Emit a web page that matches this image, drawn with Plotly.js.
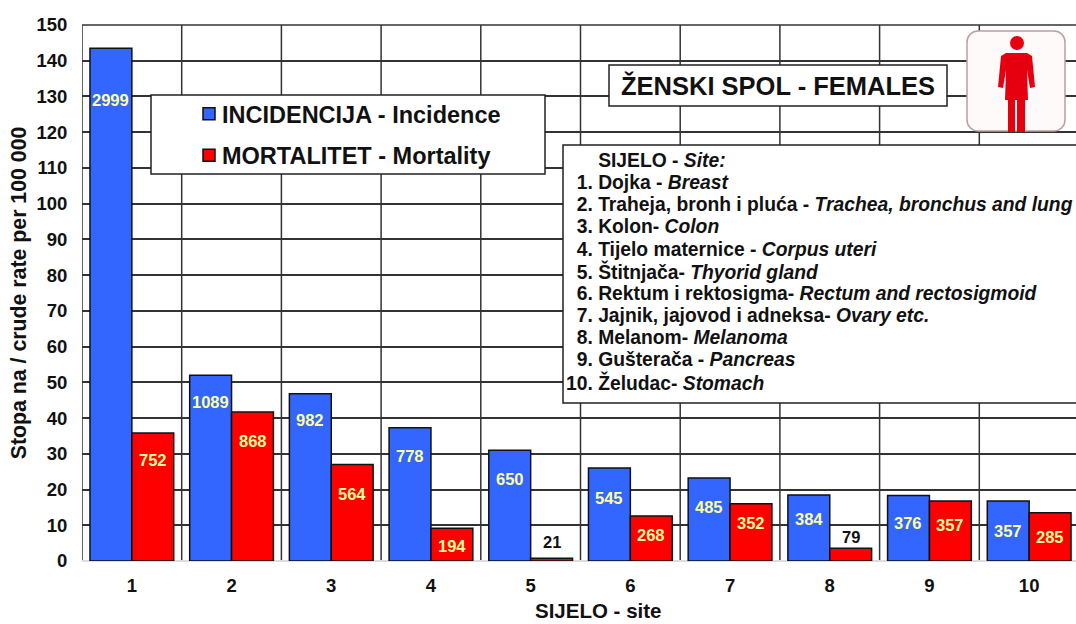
<!DOCTYPE html>
<html><head><meta charset="utf-8">
<script src="https://cdn.plot.ly/plotly-3.0.1.min.js"></script>
<style>html,body{margin:0;padding:0;background:#fff;overflow:hidden}</style>
</head><body><div id="chart" style="width:1076px;height:624px"></div>
<script>
const sites = [1,2,3,4,5,6,7,8,9,10];
const incidenceRate = [143.5,52,46.8,37.3,31,26,23.2,18.5,18.3,16.8];
const mortalityRate = [35.8,41.7,27,9.2,0.8,12.6,16,3.6,16.8,13.5];
const incidenceCases = [2999,1089,982,778,650,545,485,384,376,357];
const mortalityCases = [752,868,564,194,21,268,352,79,357,285];
const incidenceDrop = [52,27,26,28,29,30,29,24,27,30];
const mortalityDrop = [27,29,29,18,-16,19,19,-11,24,24];
const yTicks = [0,10,20,30,40,50,60,70,80,90,100,110,120,130,140,150];
const NB = '\u00a0';
const siteLines = [
 NB.repeat(6) + 'SIJELO - <i>Site:</i>',
 NB + NB + '1. Dojka - <i>Breast</i>',
 NB + NB + '2. Traheja, bronh i pluća - <i>Trachea, bronchus and lung</i>',
 NB + NB + '3. Kolon- <i>Colon</i>',
 NB + NB + '4. Tijelo maternice - <i>Corpus uteri</i>',
 NB + NB + '5. Štitnjača- <i>Thyorid gland</i>',
 NB + NB + '6. Rektum i rektosigma- <i>Rectum and rectosigmoid</i>',
 NB + NB + '7. Jajnik, jajovod i adneksa- <i>Ovary etc.</i>',
 NB + NB + '8. Melanom- <i>Melanoma</i>',
 NB + NB + '9. Gušterača - <i>Pancreas</i>',
 '10. Želudac- <i>Stomach</i>'
];
const FONT = '"Liberation Sans", Arial, sans-serif';
const W = 1076, H = 624, L = 82, T = 25, B = 63;
const px = x => (x - L) / (W - L);
const py = y => 1 - (y - T) / (H - T - B);
const CATW = 99.7;
const BLUE = '#3366ff', RED = '#ff0000', LINE = '#333333', PALE = '#ffff99';

const bar = (name, y, color) => ({
  type: 'bar', name, x: sites, y, legendgroup: name,
  marker: {color, line: {color: '#111', width: 1.5}}, hoverinfo: 'x+y'
});
const traces = [
  bar('INCIDENCIJA - Incidence', incidenceRate, BLUE),
  bar('MORTALITET - Mortality', mortalityRate, RED)
];
const gridShapes = sites.map(s => ({
  type: 'line', layer: 'below', xref: 'x', yref: 'paper',
  x0: s - 0.5, x1: s - 0.5, y0: 0, y1: 1, line: {color: LINE, width: 1.5}
}));
const label = (x, y, text, dx, drop, color) => ({
  xref: 'x', yref: 'y', x, y, text: String(text), showarrow: false,
  xanchor: 'center', yanchor: 'middle', xshift: dx, yshift: -drop,
  font: {family: FONT, size: 16.5, color, weight: 700}
});
const labels = [];
sites.forEach((s, i) => {
  labels.push(label(s, incidenceRate[i], incidenceCases[i], -21, incidenceDrop[i], PALE));
  labels.push(label(s, mortalityRate[i], mortalityCases[i], 21, mortalityDrop[i], mortalityDrop[i] < 0 ? '#111' : PALE));
});
const siteNotes = siteLines.map((text, i) => ({
  xref: 'paper', yref: 'paper', x: px(565), y: py(160.5 + i * 22.15), xanchor: 'left', yanchor: 'middle',
  showarrow: false, text, align: 'left', borderpad: 0,
  font: {family: FONT, size: 19.3, color: '#111', weight: 700}
}));
const icon = 'data:image/svg+xml,' + encodeURIComponent(
 '<svg xmlns="http://www.w3.org/2000/svg" width="100" height="102" viewBox="0 0 100 102">' +
 '<rect x="1" y="1" width="98" height="100" rx="11" fill="#fffafa" stroke="#b9a0a0" stroke-width="1.5"/>' +
 '<circle cx="51" cy="13" r="7" fill="#e6000f"/>' +
 '<path d="M40 23H61L66 26L69 57L64 58L61 40L62 70H59V102H51V70H49V102H42V70H39L40 40L37 58L32 57L35 26Z" fill="#e6000f"/>' +
 '</svg>');
const layout = {
  width: W, height: H, autosize: false,
  margin: {l: L, r: 0, t: T, b: B, pad: 0},
  paper_bgcolor: '#fff', plot_bgcolor: '#fff',
  font: {family: FONT, color: '#111'},
  barmode: 'group', bargap: 0.16, bargroupgap: 0,
  xaxis: {
    range: [0.5, 0.5 + (W - L) / CATW], tickmode: 'array', tickvals: sites, ticktext: sites.map(String),
    showgrid: false, zeroline: false, showline: false, ticks: 'outside', ticklen: 8, tickcolor: 'rgba(0,0,0,0)',
    tickfont: {family: FONT, size: 18.5, color: '#111', weight: 700}, automargin: false
  },
  yaxis: {
    range: [0, 150], tickmode: 'array', tickvals: yTicks, showgrid: true, gridcolor: LINE, gridwidth: 1.5,
    zeroline: true, zerolinecolor: '#dddddd', zerolinewidth: 2, showline: false,
    ticks: 'outside', ticklen: 10, tickcolor: 'rgba(0,0,0,0)', automargin: false,
    tickfont: {family: FONT, size: 18.5, color: '#111', weight: 700},
    title: {text: 'Stopa na / crude rate per 100 000', standoff: 3, font: {family: FONT, size: 21.3, color: '#111', weight: 700}}
  },
  showlegend: true,
  legend: {
    x: px(182), y: py(92), xanchor: 'left', yanchor: 'top', bgcolor: 'rgba(0,0,0,0)', borderwidth: 0,
    traceorder: 'grouped', tracegroupgap: 8, font: {family: FONT, size: 23.5, color: '#111', weight: 700}
  },
  shapes: gridShapes.concat([
    {type: 'line', layer: 'below', xref: 'paper', yref: 'paper', x0: 0, x1: 1, y0: 1, y1: 1, line: {color: LINE, width: 1.5}},
    {type: 'rect', layer: 'above', xref: 'paper', yref: 'paper', x0: px(151), x1: px(545), y0: py(95), y1: py(174),
     fillcolor: '#fff', line: {color: '#222', width: 1.5}},
    {type: 'rect', layer: 'above', xref: 'paper', yref: 'paper', x0: px(563), x1: px(1090), y0: py(145), y1: py(403),
     fillcolor: '#fff', line: {color: '#222', width: 1.5}},
    {type: 'rect', layer: 'above', xref: 'paper', yref: 'paper', x0: px(609), x1: px(947), y0: py(65), y1: py(106),
     fillcolor: '#fff', line: {color: '#222', width: 1.5}}
  ]),
  images: [{source: icon, xref: 'paper', yref: 'paper', x: px(966), y: py(30), sizex: 100 / (W - L), sizey: 102 / (H - T - B),
    xanchor: 'left', yanchor: 'top', sizing: 'stretch', layer: 'above'}],
  annotations: labels.concat(siteNotes, [
    {xref: 'paper', yref: 'paper', x: px(778), y: py(85), xanchor: 'center', yanchor: 'middle', showarrow: false,
     text: 'ŽENSKI SPOL - FEMALES', font: {family: FONT, size: 25.5, color: '#111', weight: 700}},
    {xref: 'paper', yref: 'paper', x: px(598), y: py(610.5), xanchor: 'center', yanchor: 'middle', showarrow: false,
     text: 'SIJELO - site', font: {family: FONT, size: 20.5, color: '#111', weight: 700}}
  ])
};
Plotly.newPlot('chart', traces, layout, {displayModeBar: false, responsive: false}).then(gd => {
  gd.querySelectorAll('.legend .legendsymbols').forEach(el => el.setAttribute('transform', 'translate(7,0)'));
});
</script></body></html>
